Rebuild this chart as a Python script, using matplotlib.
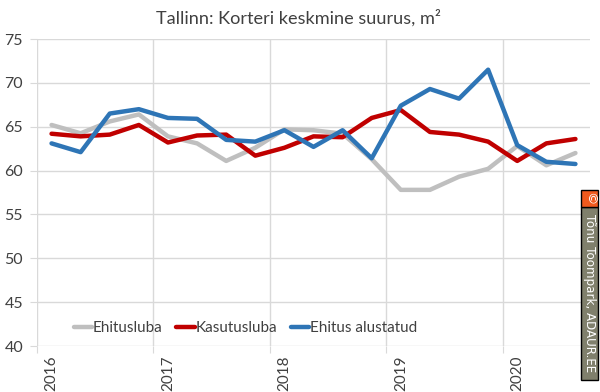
import matplotlib
matplotlib.use("Agg")
import matplotlib.pyplot as plt
from matplotlib.patches import Rectangle

# quarterly data, 2016Q1 .. 2020Q3
quarters = ["2016", "", "", "", "2017", "", "", "", "2018", "", "", "",
            "2019", "", "", "", "2020", "", ""]
ehitusluba = [65.2, 64.25, 65.6, 66.4, 63.9, 63.1, 61.1, 62.6, 64.7, 64.6,
              64.2, 61.3, 57.8, 57.8, 59.3, 60.2, 62.8, 60.6, 62.0]
kasutusluba = [64.2, 63.9, 64.1, 65.2, 63.2, 64.0, 64.1, 61.7, 62.6, 63.9,
               63.8, 66.0, 66.9, 64.4, 64.1, 63.3, 61.1, 63.1, 63.6]
alustatud = [63.1, 62.1, 66.5, 67.0, 66.0, 65.9, 63.5, 63.3, 64.6, 62.7,
             64.6, 61.4, 67.4, 69.3, 68.2, 71.5, 62.9, 61.0, 60.75]
series_names = ["Ehitusluba", "Kasutusluba", "Ehitus alustatud"]
colors = ["#BFBFBF", "#C00000", "#2E75B6"]

plt.rcParams['font.family'] = ['Lato', 'DejaVu Sans']
W, H = 600, 392
fig = plt.figure(figsize=(6, 3.92), dpi=100)
ax = fig.add_axes([37 / W, 1 - 346 / H, (590 - 37) / W, (346 - 39) / H])

x = list(range(len(quarters)))
for vals, name, c in zip([ehitusluba, kasutusluba, alustatud], series_names, colors):
    ax.plot(x, vals, color=c, lw=3.2, label=name, solid_capstyle="round",
            solid_joinstyle="round")

ax.set_xlim(-0.5, len(quarters) - 0.5)
ax.set_ylim(40, 75)
ax.set_yticks(range(40, 76, 5))

# gridlines at year boundaries, labels on first quarter of each year
ax.set_xticks([i - 0.5 for i, q in enumerate(quarters) if q])
ax.set_xticklabels([])
ax.set_xticks([i for i, q in enumerate(quarters) if q], minor=True)
ax.set_xticklabels([q for q in quarters if q], minor=True, rotation=90,
                   fontsize=11, color="#404040")
ax.tick_params(axis="x", which="minor", length=0, pad=7)
ax.tick_params(axis="x", which="major", length=5, color="#D9D9D9")
ax.tick_params(axis="y", length=5, color="#D9D9D9", labelsize=11.5,
               labelcolor="#404040", pad=5)
ax.grid(True, which="major", color="#D9D9D9", lw=1)
ax.set_axisbelow(True)
for s in ax.spines.values():
    s.set_visible(False)

leg = ax.legend(loc="center left", bbox_to_anchor=(66 / W, 1 - 328 / H),
                bbox_transform=fig.transFigure, ncol=3, frameon=False,
                fontsize=11, handlelength=1.2, handletextpad=0.05,
                columnspacing=0.9, borderpad=0)
for t in leg.get_texts():
    t.set_color("#404040")

fig.text(0.497, 1 - 18 / H, "Tallinn: Korteri keskmine suurus, m²", ha="center",
         va="center", fontsize=13.1, color="#404040")

# watermark
fig.patches.append(Rectangle((581 / W, 1 - 380 / H), 17 / W, 173 / H,
                             transform=fig.transFigure, facecolor="#80806C",
                             edgecolor="black", lw=1))
fig.patches.append(Rectangle((581 / W, 1 - 207 / H), 17 / W, 17 / H,
                             transform=fig.transFigure, facecolor="#F05A1E",
                             edgecolor="black", lw=1))
fig.text(589.5 / W, 1 - 198.5 / H, "©", ha="center", va="center", fontsize=9.5,
         color="white", rotation=-90, family="DejaVu Sans")
fig.text(589.5 / W, 1 - 293 / H, "Tõnu Toompark, ADAUR.EE", ha="center",
         va="center", fontsize=8.6, color="white", rotation=-90,
         family="DejaVu Sans")

fig.savefig("out.png", dpi=100, facecolor="white")
